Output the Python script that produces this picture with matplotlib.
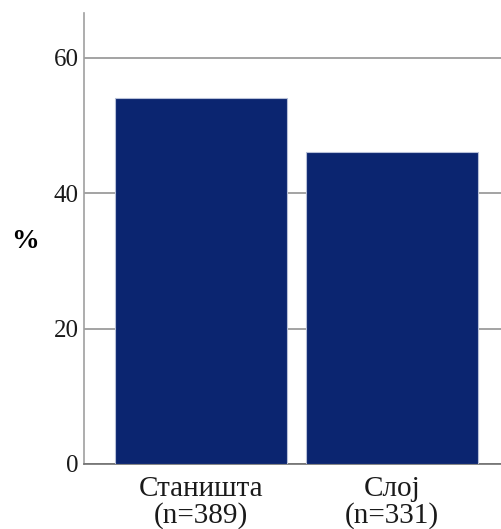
import matplotlib
matplotlib.use("Agg")
import matplotlib.pyplot as plt

categories = ["Станишта\n(n=389)", "Слој\n(n=331)"]
values = [54.0, 46.0]
yticks = [0, 20, 40, 60]

plt.rcParams['font.family'] = ['Liberation Serif', 'DejaVu Serif']

fig = plt.figure(figsize=(5.01, 5.29), dpi=100)
W, H = 501, 529
ax = fig.add_axes([84 / W, (H - 464) / H, 1 - 84 / W, (464 - 13) / H])

x = list(range(len(categories)))
ax.bar(x, values, width=0.9, color="#0b2570", edgecolor="#b7c0d8", linewidth=0.8, zorder=3)

ax.set_xlim(-0.612, 1.572)
ax.set_ylim(0, 66.6)
ax.set_yticks(yticks)
ax.set_yticklabels([str(t) for t in yticks], fontsize=18)
ax.set_xticks(x)
ax.set_xticklabels(categories, fontsize=21, linespacing=0.98)
ax.tick_params(axis='both', length=0, colors="#1a1a1a")
ax.tick_params(axis='y', pad=4)
ax.tick_params(axis='x', pad=9)
ax.yaxis.grid(True, color="#8a8a8a", linewidth=1.1, zorder=0)
ax.set_axisbelow(True)

for s in ["top", "right"]:
    ax.spines[s].set_visible(False)
ax.spines["left"].set_color("#a0a0a0")
ax.spines["left"].set_linewidth(1.2)
ax.spines["bottom"].set_color("#707070")
ax.spines["bottom"].set_linewidth(1.2)

fig.text(25 / W, 1 - 241 / H, "%", fontsize=20, fontweight="bold", ha="center", va="center")

fig.savefig("out.png", dpi=100)
